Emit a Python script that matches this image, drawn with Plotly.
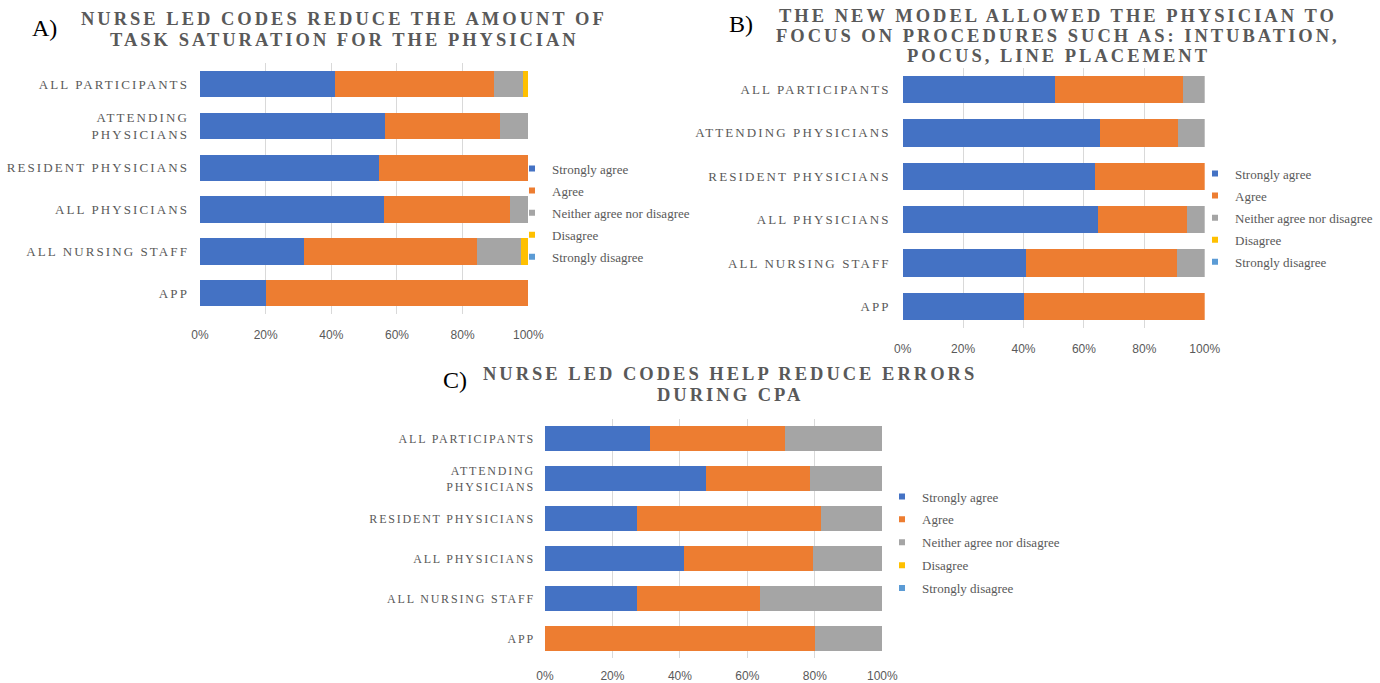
import plotly.graph_objects as go

W, H = 1380, 683

# Respondent groups (top to bottom) and the Likert response categories
groups = ["All participants", "Attending physicians", "Resident physicians",
          "All physicians", "All nursing staff", "APP"]
labels_two_line = ["ALL PARTICIPANTS", "ATTENDING<br>PHYSICIANS", "RESIDENT PHYSICIANS",
                   "ALL PHYSICIANS", "ALL NURSING STAFF", "APP"]
labels_one_line = ["ALL PARTICIPANTS", "ATTENDING PHYSICIANS", "RESIDENT PHYSICIANS",
                   "ALL PHYSICIANS", "ALL NURSING STAFF", "APP"]
responses = ["Strongly agree", "Agree", "Neither agree nor disagree", "Disagree", "Strongly disagree"]
response_colors = ["#4472C4", "#ED7D31", "#A5A5A5", "#FFC000", "#5B9BD5"]
tick_values = [0, 20, 40, 60, 80, 100]
tick_labels = ["0%", "20%", "40%", "60%", "80%", "100%"]

# A) Nurse led codes reduce the amount of task saturation for the physician (%)
a_strongly_agree = [41.0, 56.5, 54.5, 56.0, 31.6, 20.0]
a_agree = [48.5, 35.0, 45.5, 38.3, 52.9, 80.0]
a_neither = [9.0, 8.5, 0.0, 5.7, 13.4, 0.0]
a_disagree = [1.5, 0.0, 0.0, 0.0, 2.1, 0.0]
a_strongly_disagree = [0.0, 0.0, 0.0, 0.0, 0.0, 0.0]

# B) The new model allowed the physician to focus on procedures (%)
b_strongly_agree = [50.5, 65.2, 63.6, 64.7, 40.7, 40.0]
b_agree = [42.2, 26.0, 36.4, 29.4, 50.1, 60.0]
b_neither = [7.3, 8.8, 0.0, 5.9, 9.2, 0.0]
b_disagree = [0.0, 0.0, 0.0, 0.0, 0.0, 0.0]
b_strongly_disagree = [0.0, 0.0, 0.0, 0.0, 0.0, 0.0]

# C) Nurse led codes help reduce errors during CPA (%)
c_strongly_agree = [31.1, 47.8, 27.3, 41.2, 27.3, 0.0]
c_agree = [40.1, 30.8, 54.5, 38.3, 36.4, 80.0]
c_neither = [28.8, 21.4, 18.2, 20.5, 36.3, 20.0]
c_disagree = [0.0, 0.0, 0.0, 0.0, 0.0, 0.0]
c_strongly_disagree = [0.0, 0.0, 0.0, 0.0, 0.0, 0.0]

title_a = ["NURSE LED CODES REDUCE THE AMOUNT OF", "TASK SATURATION FOR THE PHYSICIAN"]
title_b = ["THE NEW MODEL ALLOWED THE PHYSICIAN TO",
           "FOCUS ON PROCEDURES SUCH AS: INTUBATION,", "POCUS, LINE PLACEMENT"]
title_c = ["NURSE LED CODES HELP REDUCE ERRORS", "DURING CPA"]

GRAY_TEXT = "#595959"
SERIF = "Liberation Serif, Times New Roman, serif"
SANS = "Liberation Sans, Arial, sans-serif"


def px_x(x):
    return x / W


def px_y(y):
    return 1 - y / H


def spaced(text, ls):
    parts = text.split("<br>")
    return "<br>".join(f'<span style="letter-spacing:{ls}px">{p}</span>' for p in parts)


panels = [
    dict(key="", legend="legend", labels=labels_two_line,
         values=[a_strongly_agree, a_agree, a_neither, a_disagree, a_strongly_disagree],
         xdom=(200, 528.3), ydom=(63.3, 314.2), cat_size=13, cat_ls=2.1, cat_stand=10,
         tick_stand=12, title=title_a, title_x=344, title_y=[19, 39.5],
         tag="A)", tag_xy=(44, 28), leg_xy=(552, 166.5), leg_gap=2.2),
    dict(key="2", legend="legend2", labels=labels_one_line,
         values=[b_strongly_agree, b_agree, b_neither, b_disagree, b_strongly_disagree],
         xdom=(902.7, 1204.7), ydom=(67.8, 328.0), cat_size=13, cat_ls=2.1, cat_stand=11,
         tick_stand=12, title=title_b, title_x=1058, title_y=[16.5, 36, 55.5],
         tag="B)", tag_xy=(741, 24), leg_xy=(1235, 171.5), leg_gap=2.2),
    dict(key="3", legend="legend3", labels=labels_two_line,
         values=[c_strongly_agree, c_agree, c_neither, c_disagree, c_strongly_disagree],
         xdom=(545.0, 882.3), ydom=(418.9, 658.3), cat_size=12, cat_ls=1.8, cat_stand=9,
         tick_stand=9, title=title_c, title_x=730, title_y=[374, 394.5],
         tag="C)", tag_xy=(455, 380), leg_xy=(922, 494.5), leg_gap=3),
]

fig = go.Figure()
annotations = []
layout_axes = {}

for p in panels:
    xa, ya = "x" + p["key"], "y" + p["key"]
    for i, (name, color) in enumerate(zip(responses, response_colors)):
        fig.add_trace(go.Bar(
            y=groups, x=p["values"][i], name=name, orientation="h",
            marker=dict(color=color, line=dict(width=0)),
            xaxis=xa, yaxis=ya, showlegend=False,
        ))
    # small square legend keys
    for i, (name, color) in enumerate(zip(responses, response_colors)):
        fig.add_trace(go.Scatter(
            x=[None], y=[None], mode="markers", name=name,
            marker=dict(symbol="square", size=6, color=color),
            xaxis=xa, yaxis=ya, legend=p["legend"],
            legendgroup=f"{p['legend']}_{i}", showlegend=True,
        ))

    layout_axes["xaxis" + p["key"]] = dict(
        domain=[px_x(p["xdom"][0]), px_x(p["xdom"][1])], anchor=ya,
        range=[0, 100], tickvals=tick_values, ticktext=tick_labels,
        showgrid=True, gridcolor="#D9D9D9", gridwidth=1,
        zeroline=False, showline=False, ticks="", automargin=False,
        ticklabelstandoff=p["tick_stand"],
        tickfont=dict(family=SANS, size=12, color=GRAY_TEXT), fixedrange=True,
    )
    layout_axes["yaxis" + p["key"]] = dict(
        domain=[px_y(p["ydom"][1]), px_y(p["ydom"][0])], anchor=xa,
        categoryorder="array", categoryarray=groups, autorange="reversed",
        tickvals=groups, ticktext=[spaced(t, p["cat_ls"]) for t in p["labels"]],
        showgrid=False, zeroline=False, showline=False, ticks="", automargin=False,
        ticklabelstandoff=p["cat_stand"],
        tickfont=dict(family=SERIF, size=p["cat_size"], color=GRAY_TEXT), fixedrange=True,
    )
    layout_axes[p["legend"]] = dict(
        x=px_x(p["leg_xy"][0] - 40), xanchor="left",
        y=px_y(p["leg_xy"][1] - 13), yanchor="top",
        bgcolor="rgba(0,0,0,0)", borderwidth=0, tracegroupgap=p["leg_gap"],
        traceorder="grouped",
        font=dict(family=SERIF, size=13, color=GRAY_TEXT),
    )

    for line, ty in zip(p["title"], p["title_y"]):
        annotations.append(dict(
            text=spaced(line, 3.0), x=px_x(p["title_x"]), y=px_y(ty),
            xref="paper", yref="paper", xanchor="center", yanchor="middle",
            showarrow=False,
            font=dict(family=SERIF, size=18.5, color=GRAY_TEXT, weight="bold"),
        ))
    annotations.append(dict(
        text=p["tag"], x=px_x(p["tag_xy"][0]), y=px_y(p["tag_xy"][1]),
        xref="paper", yref="paper", xanchor="center", yanchor="middle",
        showarrow=False, font=dict(family=SERIF, size=24, color="#000000"),
    ))

fig.update_layout(
    width=W, height=H, margin=dict(l=0, r=0, t=0, b=0, autoexpand=False),
    paper_bgcolor="white", plot_bgcolor="white",
    barmode="stack", bargap=0.37,
    annotations=annotations, **layout_axes,
)

fig.write_html("out.html", config={"displayModeBar": False})
